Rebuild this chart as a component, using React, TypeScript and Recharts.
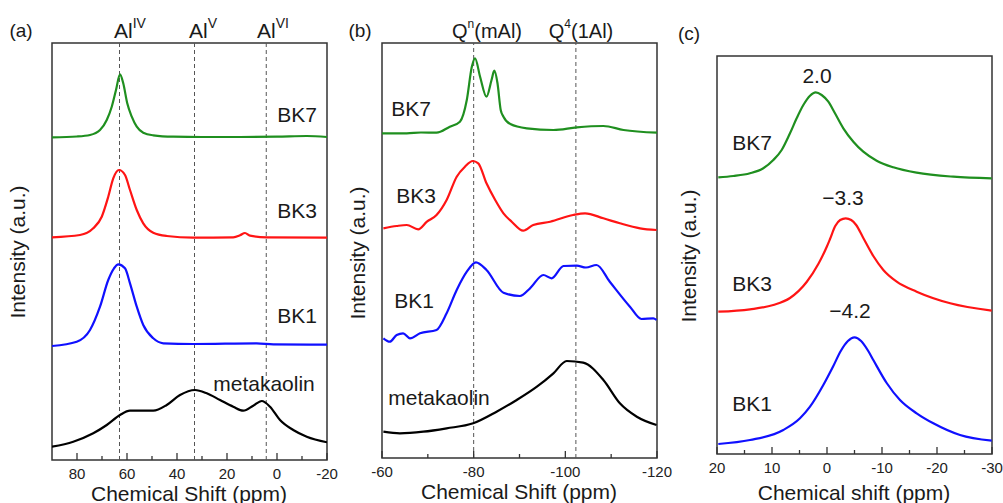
import React from "react";
import { LineChart, Line, XAxis, YAxis, ReferenceLine, ReferenceArea } from "recharts";

const FONT = "'Liberation Sans', Arial, sans-serif";
const GREEN = "#1f8f1f";
const RED = "#ff1414";
const BLUE = "#1010ff";
const BLACK = "#000000";

// (a) 27Al MAS NMR, [ppm, intensity a.u.]
const alBK7: [number, number][] = [
  [90, 322.7], [80, 323.5], [74.8, 325], [70.8, 330], [68.1, 340], [66.1, 353.3], [64.4, 370],
  [62.8, 385.7], [61.5, 376.7], [59.9, 356.7], [58.1, 343.3], [56.1, 333.3], [53.5, 327.3],
  [49.5, 324.7], [41.5, 323.3], [30, 323], [14.8, 323], [0, 323.3], [-11.9, 324], [-20, 323],
];
const alBK3: [number, number][] = [
  [90, 222.7], [78.8, 225], [73.5, 231.7], [70.1, 243.3], [67.5, 263.3], [65.5, 281.7],
  [63.2, 290], [60.8, 285], [58.8, 270], [56.1, 250], [53.5, 236.7], [49.5, 227.3],
  [44.1, 224], [33.5, 222.3], [17.5, 222.7], [14.8, 224.7], [12.8, 227], [10.8, 224.3],
  [4.1, 222.7], [-20, 222.3],
];
const alBK1: [number, number][] = [
  [90, 114], [80.1, 118.3], [74.8, 130], [70.8, 153.3], [67.5, 180], [65.2, 191.7],
  [63.5, 195.7], [60.8, 191.7], [58.8, 176.7], [56.1, 153.3], [53.5, 135], [49.5, 121.7],
  [45.5, 116.7], [33.5, 116], [8.1, 116.7], [1.5, 115.7], [-20, 115.3],
];
const alMeta: [number, number][] = [
  [90, 13.3], [81.5, 18.3], [73.5, 26.7], [68.1, 35], [62.8, 45], [58.8, 49.3], [49.5, 49.3],
  [44.1, 55], [38.8, 65], [32.8, 70], [28.1, 66.7], [22.8, 60], [17.5, 53.3], [13.5, 49.3],
  [9.5, 54.3], [6.1, 59], [2.8, 53.3], [-1.2, 40], [-6.5, 30], [-11.9, 23.3], [-20, 17.7],
];

// (b) 29Si MAS NMR
const siBK7: [number, number][] = [
  [-60, 324.7], [-65.4, 324.7], [-68.5, 325.5], [-71.9, 325.3], [-74.8, 331.3], [-77, 336.3],
  [-78.5, 358], [-79.6, 391.3], [-80.3, 399.7], [-81.4, 381.3], [-82.8, 361.3], [-83.9, 378],
  [-84.5, 387.3], [-85.2, 374.7], [-85.9, 348], [-86.5, 341.3], [-88, 334], [-91.6, 329.7],
  [-97.4, 328], [-102.5, 330.7], [-108.3, 332], [-112.7, 328], [-120, 325.3],
];
const siBK3: [number, number][] = [
  [-60.3, 229.7], [-63.2, 232], [-65.4, 233], [-67.9, 228.7], [-69.8, 236.3], [-71.9, 243],
  [-74.1, 258], [-76.3, 281.3], [-78.1, 291.3], [-79.8, 297], [-81, 294.7], [-82.8, 274.7],
  [-84.7, 258], [-86.5, 244.7], [-88.3, 236.3], [-90.8, 227.3], [-93, 233], [-96.7, 236.3],
  [-101.7, 243], [-104.3, 244.7], [-108.3, 239.7], [-111.9, 234.7], [-116.3, 229.7], [-119.9, 228],
];
const siBK1: [number, number][] = [
  [-60.3, 119.7], [-61.7, 116.3], [-63.2, 123], [-64.6, 124.7], [-66.1, 119.7], [-68.3, 124.7],
  [-71.9, 128], [-74.1, 144.7], [-76.3, 168], [-78.5, 186.3], [-80.5, 195.7], [-82.8, 188],
  [-86.5, 165.3], [-90.1, 162], [-92.3, 169.7], [-95.2, 183], [-97, 179.7], [-99.6, 192],
  [-102.5, 192.3], [-104.5, 190.5], [-106.8, 193], [-109.7, 176.3], [-114.1, 151.3], [-116.6, 139],
  [-119.2, 139.7], [-119.9, 138],
];
const siMeta: [number, number][] = [
  [-60.3, 26.3], [-63.9, 24.7], [-69, 26.3], [-74.1, 29.7], [-79.9, 34.7], [-85, 46.3],
  [-89.4, 58], [-93.8, 71.3], [-97.4, 84.7], [-100.3, 97], [-103.9, 95.3], [-108.3, 78],
  [-111.9, 54.7], [-115.6, 41.3], [-119.9, 33],
];

// (c) 23Na MAS NMR
const naBK7: [number, number][] = [
  [19.76, 276.7], [17.03, 278], [14, 280.7], [11.58, 285.7], [9.76, 294], [8.24, 304],
  [6.73, 320.7], [5.52, 335.7], [4.3, 349], [3.09, 358.3], [2.06, 361.7], [0.97, 359],
  [-0.24, 352.3], [-1.45, 340.7], [-2.97, 325.7], [-4.79, 312.3], [-6.6, 302.3],
  [-9.03, 293.3], [-12.06, 286.7], [-16.3, 281.3], [-22.97, 277.3], [-29.94, 275.7],
];
const naBK3: [number, number][] = [
  [19.76, 142.3], [14, 144.7], [9.76, 149], [6.73, 156], [3.7, 172], [1.58, 190],
  [0.06, 207], [-0.55, 215], [-1.5, 228], [-2.4, 234], [-3.4, 235.7], [-4.4, 234],
  [-5.3, 229], [-6.6, 216], [-8.42, 198], [-10.24, 184], [-12.67, 172.3], [-16.3, 162.3],
  [-22.4, 150.7], [-29.94, 143.3],
];
const naBK1: [number, number][] = [
  [19.76, 10], [14, 14], [7.94, 24], [4.91, 35.7], [3.09, 47.3], [0.67, 69], [-1.15, 88],
  [-2.5, 103], [-3.8, 113], [-5, 116.7], [-6.2, 113], [-7.5, 103], [-8.42, 94],
  [-10.85, 71], [-13.27, 54], [-16.3, 40.7], [-19.33, 30.7], [-24.18, 19], [-29.94, 13.3],
];

const toRows = (pts: [number, number][]) => pts.map(([ppm, i]) => ({ ppm, i }));

function makeTick(majors: number[]) {
  return (props: any) => {
    const { x, y, payload } = props;
    const major = majors.includes(payload.value);
    return (
      <g>
        <line x1={x} x2={x} y1={y} y2={y - (major ? 7 : 4)} stroke="#333" strokeWidth={1.3} />
        {major && (
          <text x={x} y={y + 19} textAnchor="middle" fontSize={15} fill="#222" fontFamily={FONT}>
            {payload.value}
          </text>
        )}
      </g>
    );
  };
}

interface PanelProps {
  left: number;
  width: number;
  margin: { top: number; right: number; bottom: number; left: number };
  domain: [number, number];
  yMax: number;
  majors: number[];
  minors: number[];
  dashed: number[];
  series: { pts: [number, number][]; color: string }[];
}

function Panel({ left, width, margin, domain, yMax, majors, minors, dashed, series }: PanelProps) {
  return (
    <div style={{ position: "absolute", left, top: 0 }}>
      <LineChart width={width} height={503} margin={margin}>
        <XAxis
          type="number"
          dataKey="ppm"
          domain={domain}
          reversed
          allowDataOverflow
          ticks={[...majors, ...minors]}
          interval={0}
          tick={makeTick(majors)}
          tickLine={false}
          axisLine={false}
          tickSize={0}
          tickMargin={0}
          height={40}
        />
        <YAxis type="number" domain={[0, yMax]} hide allowDataOverflow />
        <ReferenceArea
          x1={domain[0]}
          x2={domain[1]}
          y1={0}
          y2={yMax}
          fill="none"
          stroke="#333"
          strokeWidth={1.5}
          ifOverflow="visible"
        />
        {dashed.map((d) => (
          <ReferenceLine key={d} x={d} stroke="#555" strokeDasharray="4 3" strokeWidth={1} />
        ))}
        {series.map((s, k) => (
          <Line
            key={k}
            data={toRows(s.pts)}
            dataKey="i"
            type="monotone"
            stroke={s.color}
            strokeWidth={2.2}
            dot={false}
            isAnimationActive={false}
          />
        ))}
      </LineChart>
    </div>
  );
}

function Txt({ x, y, size = 21, rotate = false, children }: any) {
  return (
    <div
      style={{
        position: "absolute",
        left: x,
        top: y,
        transform: `translate(-50%, -50%)${rotate ? " rotate(-90deg)" : ""}`,
        fontFamily: FONT,
        fontSize: size,
        lineHeight: 1,
        whiteSpace: "nowrap",
        color: "#1a1a1a",
      }}
    >
      {children}
    </div>
  );
}

const supStyle: React.CSSProperties = {
  fontSize: 14,
  verticalAlign: "baseline",
  position: "relative",
  top: -10,
};

export default function App() {
  return (
    <div style={{ position: "absolute", left: 0, top: 0, width: 1003, height: 503, background: "#fff", overflow: "hidden" }}>
      <Panel
        left={0}
        width={340}
        margin={{ top: 43, right: 13, bottom: 3, left: 52 }}
        domain={[-20, 90]}
        yMax={417}
        majors={[80, 60, 40, 20, 0, -20]}
        minors={[70, 50, 30, 10, -10]}
        dashed={[63, 33, 4.3]}
        series={[
          { pts: alBK7, color: GREEN },
          { pts: alBK3, color: RED },
          { pts: alBK1, color: BLUE },
          { pts: alMeta, color: BLACK },
        ]}
      />
      <Panel
        left={340}
        width={350}
        margin={{ top: 43, right: 33, bottom: 5, left: 42 }}
        domain={[-120, -60]}
        yMax={415}
        majors={[-60, -80, -100, -120]}
        minors={[-70, -90, -110]}
        dashed={[-80, -102.3]}
        series={[
          { pts: siBK7, color: GREEN },
          { pts: siBK3, color: RED },
          { pts: siBK1, color: BLUE },
          { pts: siMeta, color: BLACK },
        ]}
      />
      <Panel
        left={670}
        width={333}
        margin={{ top: 56, right: 11, bottom: 9, left: 47 }}
        domain={[-30, 20]}
        yMax={398}
        majors={[20, 10, 0, -10, -20, -30]}
        minors={[15, 5, -5, -15, -25]}
        dashed={[]}
        series={[
          { pts: naBK7, color: GREEN },
          { pts: naBK3, color: RED },
          { pts: naBK1, color: BLUE },
        ]}
      />

      {/* panel (a) text */}
      <Txt x={21} y={30} size={19}>(a)</Txt>
      <Txt x={130} y={30}>Al<span style={supStyle}>IV</span></Txt>
      <Txt x={203} y={30}>Al<span style={supStyle}>V</span></Txt>
      <Txt x={273} y={30}>Al<span style={supStyle}>VI</span></Txt>
      <Txt x={297} y={114}>BK7</Txt>
      <Txt x={297} y={210}>BK3</Txt>
      <Txt x={297} y={315}>BK1</Txt>
      <Txt x={264} y={383}>metakaolin</Txt>
      <Txt x={17} y={252} rotate>Intensity (a.u.)</Txt>
      <Txt x={189} y={493}>Chemical Shift (ppm)</Txt>

      {/* panel (b) text */}
      <Txt x={360} y={30} size={19}>(b)</Txt>
      <Txt x={487} y={31} size={20}>Q<span style={{ ...supStyle, fontSize: 12 }}>n</span>(mAl)</Txt>
      <Txt x={581} y={31} size={20}>Q<span style={{ ...supStyle, fontSize: 12 }}>4</span>(1Al)</Txt>
      <Txt x={411} y={108}>BK7</Txt>
      <Txt x={416} y={195}>BK3</Txt>
      <Txt x={414} y={300}>BK1</Txt>
      <Txt x={439} y={397}>metakaolin</Txt>
      <Txt x={357} y={253} rotate>Intensity (a.u.)</Txt>
      <Txt x={519} y={491}>Chemical Shift (ppm)</Txt>

      {/* panel (c) text */}
      <Txt x={689} y={33} size={19}>(c)</Txt>
      <Txt x={817} y={75}>2.0</Txt>
      <Txt x={843} y={197}>−3.3</Txt>
      <Txt x={850} y={310}>−4.2</Txt>
      <Txt x={752} y={142}>BK7</Txt>
      <Txt x={752} y={283}>BK3</Txt>
      <Txt x={752} y={403}>BK1</Txt>
      <Txt x={688} y={256} rotate>Intensity (a.u.)</Txt>
      <Txt x={854} y={492}>Chemical shift (ppm)</Txt>
    </div>
  );
}
